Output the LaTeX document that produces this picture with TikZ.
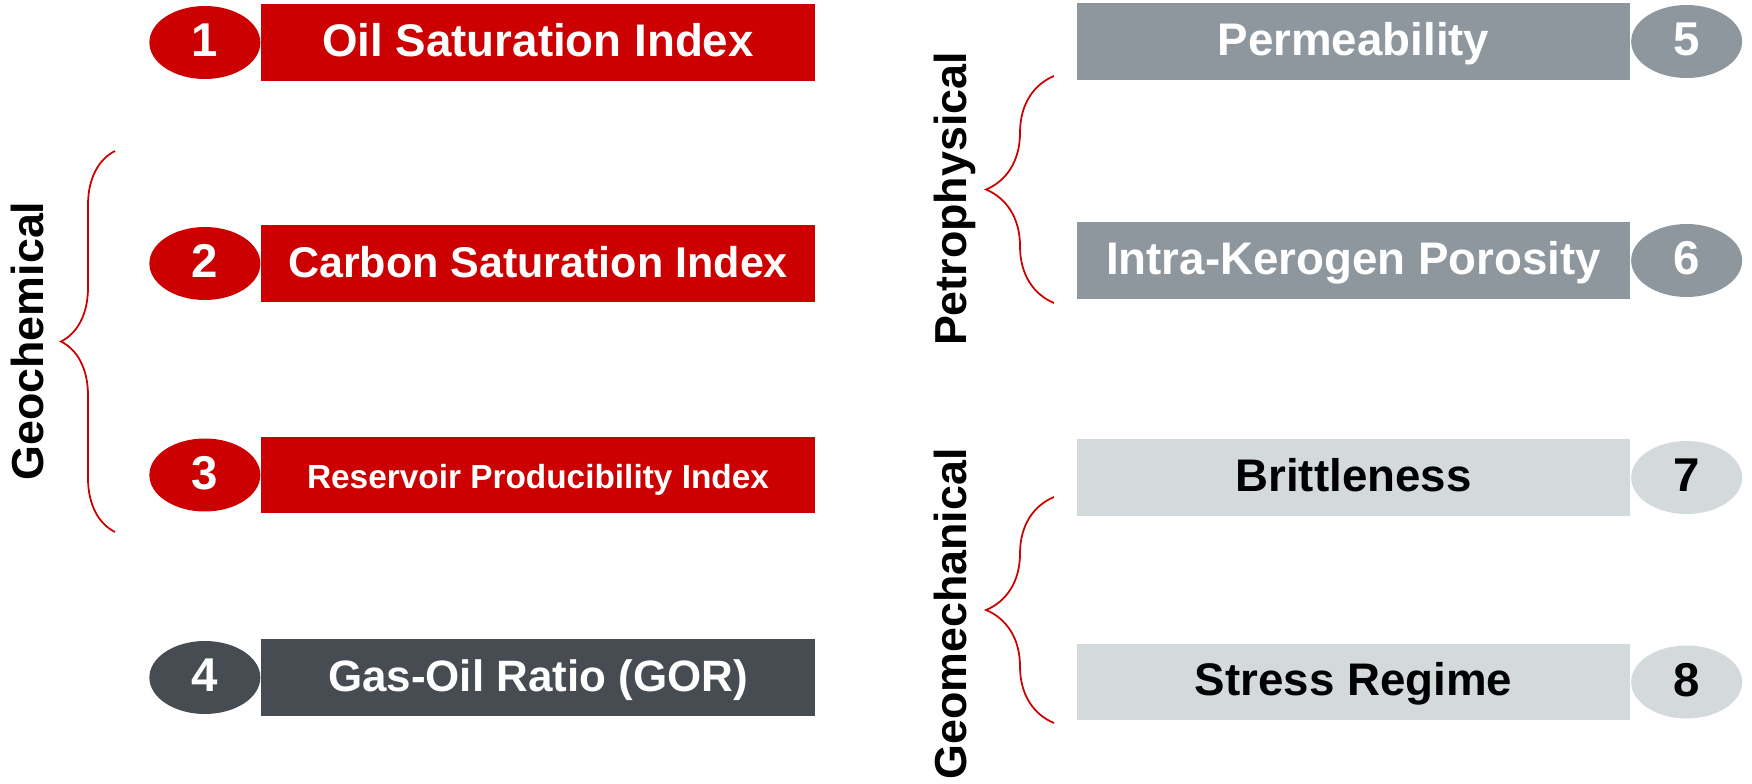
\documentclass[tikz,border=0pt]{standalone}
\usepackage{fontspec}
\setmainfont{Liberation Sans}
\usetikzlibrary{positioning,shapes.geometric,decorations.pathreplacing}

\definecolor{indexred}{HTML}{CC0000}
\definecolor{gordark}{HTML}{474C52}
\definecolor{petrogray}{HTML}{8F979E}
\definecolor{mechgray}{HTML}{D4D9DC}

\begin{document}
\begin{tikzpicture}[x=0.02cm, y=-0.02cm]
        \tikzstyle{item}=[rectangle, inner sep=0pt, minimum width=11.08cm, minimum height=1.54cm, text=white,
            font=\bfseries\fontsize{26}{30}\selectfont, text height=19.5pt, text depth=3.9pt]
        \tikzstyle{num}=[ellipse, inner sep=0pt, minimum width=2.22cm, minimum height=1.46cm, text=white,
            font=\bfseries\fontsize{27}{30}\selectfont, text height=20pt, text depth=4pt]
        \tikzstyle{group}=[rotate=90, inner sep=0pt, font=\bfseries\fontsize{25.5}{30}\selectfont, text height=18.4pt, text depth=0pt]
        \tikzstyle{curly}=[draw=indexred, line width=1pt, decorate]
        \useasboundingbox (0,0) rectangle (1752,784);
        % left column
        \node[item, fill=indexred] (b1) at (538,42.5) {Oil Saturation Index};
        \node[item, fill=indexred, font=\bfseries\fontsize{24.5}{30}\selectfont] (b2) at (538,263.5) {Carbon Saturation Index};
        \node[item, fill=indexred, font=\bfseries\fontsize{19}{24}\selectfont] (b3) at (538,475) {Reservoir Producibility Index};
        \node[item, fill=gordark, font=\bfseries\fontsize{25}{30}\selectfont] (b4) at (538,677.5) {Gas-Oil Ratio (GOR)};
        \node[num, fill=indexred, left=0pt of b1] (n1) {1};
        \node[num, fill=indexred, left=0pt of b2] (n2) {2};
        \node[num, fill=indexred, left=0pt of b3] (n3) {3};
        \node[num, fill=gordark, left=0pt of b4] (n4) {4};
        % right column
        \node[item, fill=petrogray] (b5) at (1353.5,41.5) {Permeability};
        \node[item, fill=petrogray] (b6) at (1353.5,260.5) {Intra-Kerogen Porosity};
        \node[item, fill=mechgray, text=black] (b7) at (1353.5,477.5) {Brittleness};
        \node[item, fill=mechgray, text=black] (b8) at (1353.5,682) {Stress Regime};
        \node[num, fill=petrogray, right=0pt of b5] (n5) {5};
        \node[num, fill=petrogray, right=0pt of b6] (n6) {6};
        \node[num, fill=mechgray, text=black, right=0pt of b7] (n7) {7};
        \node[num, fill=mechgray, text=black, right=0pt of b8] (n8) {8};
        % groups
        \node[group] (geochem) at (27,341) {Geochemical};
        \node[group] (petro) at (950,199) {Petrophysical};
        \node[group] (geomech) at (950,614) {Geomechanical};
        \coordinate (gtop) at (115,151);
        \coordinate (gbot) at (115,532);
        \coordinate (ptop) at (1054,76);
        \coordinate (pbot) at (1054,303);
        \coordinate (mtop) at (1054,497);
        \coordinate (mbot) at (1054,723);
        \draw[curly, decoration={brace, amplitude=1.08cm}] (gbot) -- (gtop);
        \draw[curly, decoration={brace, amplitude=1.36cm}] (pbot) -- (ptop);
        \draw[curly, decoration={brace, amplitude=1.36cm}] (mbot) -- (mtop);
    \end{tikzpicture}
\end{document}
